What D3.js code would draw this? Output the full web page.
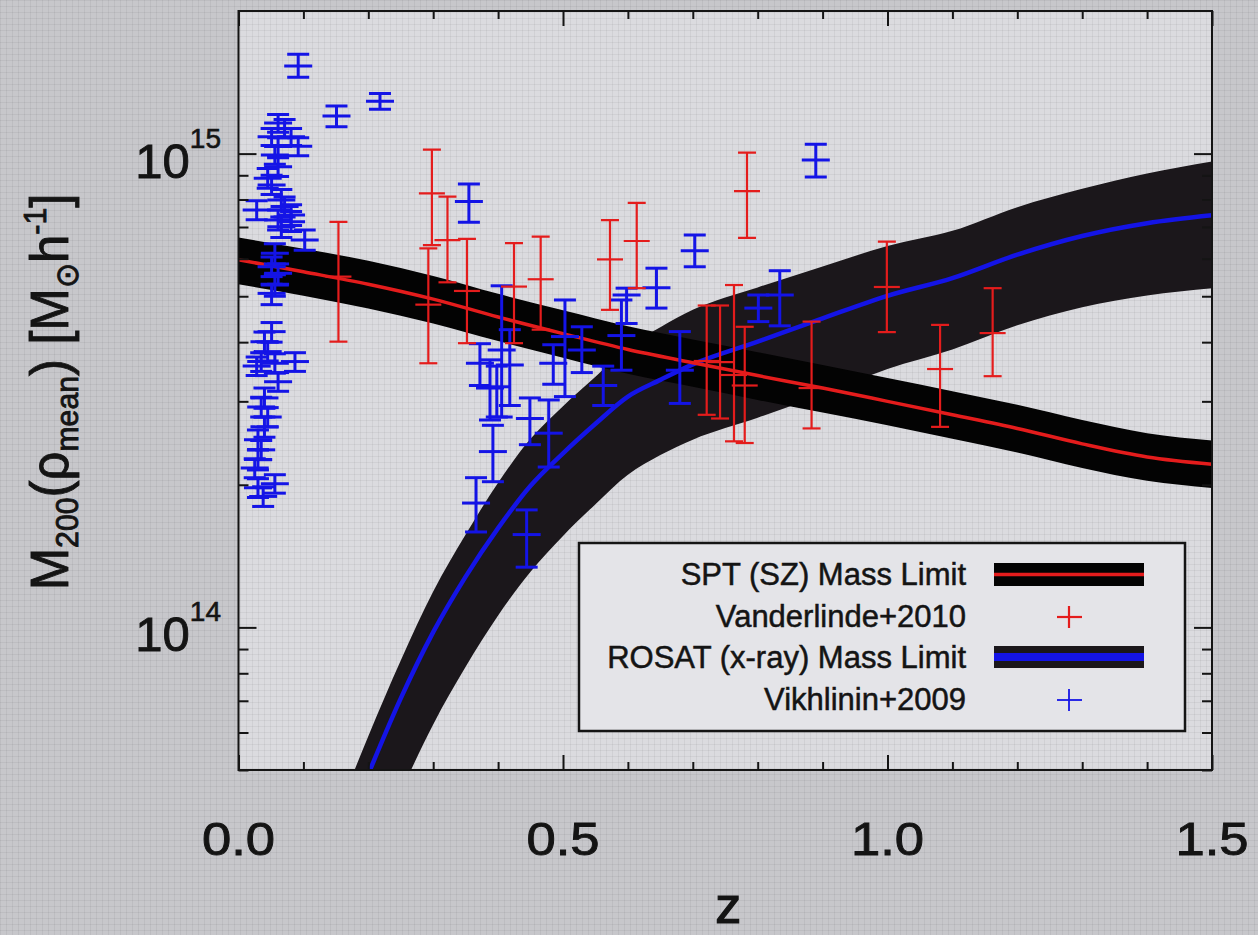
<!DOCTYPE html>
<html><head><meta charset="utf-8">
<script src="https://cdn.jsdelivr.net/npm/d3@7"></script>
<style>html,body{margin:0;padding:0;background:#c6c6ca;} svg{display:block;}</style>
</head><body>
<svg id="chart" width="1258" height="935"></svg>
<script>
// ---------------- DATA ----------------
// SPT (SZ) mass limit band
const sptZ    = [0,0.1,0.2,0.3,0.4,0.5,0.6,0.7,0.8,0.9,1.0,1.1,1.2,1.3,1.4,1.5];
const sptMid  = [5.97e14,5.63e14,5.30e14,4.93e14,4.52e14,4.17e14,3.86e14,3.62e14,3.40e14,3.20e14,3.00e14,2.81e14,2.63e14,2.44e14,2.29e14,2.21e14];
const sptHigh = [6.65e14,6.30e14,5.94e14,5.52e14,5.06e14,4.67e14,4.32e14,4.05e14,3.81e14,3.58e14,3.36e14,3.15e14,2.95e14,2.74e14,2.57e14,2.48e14];
const sptLow  = [5.30e14,5.01e14,4.71e14,4.38e14,4.02e14,3.71e14,3.43e14,3.22e14,3.02e14,2.84e14,2.67e14,2.50e14,2.34e14,2.17e14,2.04e14,1.97e14];

// ROSAT (x-ray) mass limit band
const rosZ    = [0.15,0.2,0.25,0.3,0.35,0.4,0.45,0.5,0.55,0.6,0.65,0.7,0.8,0.9,1.0,1.1,1.2,1.3,1.4,1.5];
const rosMid  = [3.31e13,4.90e13,7.08e13,9.77e13,1.28e14,1.62e14,1.99e14,2.33e14,2.69e14,3.07e14,3.33e14,3.59e14,4.01e14,4.49e14,5.01e14,5.46e14,6.12e14,6.70e14,7.13e14,7.41e14];
const rosHigh = [3.98e13,5.89e13,8.51e13,1.19e14,1.57e14,2.02e14,2.50e14,2.93e14,3.38e14,3.91e14,4.30e14,4.68e14,5.22e14,5.78e14,6.38e14,6.87e14,7.71e14,8.43e14,9.08e14,9.62e14];
const rosLow  = [2.00e13,3.02e13,4.47e13,6.24e13,8.26e13,1.06e14,1.31e14,1.56e14,1.82e14,2.10e14,2.31e14,2.49e14,2.77e14,3.10e14,3.51e14,3.86e14,4.34e14,4.74e14,5.02e14,5.20e14];

// Vanderlinde+2010 (red)
const vdlZ  = [0.154,0.298,0.2925,0.322,0.352,0.4245,0.4656,0.5724,0.6136,0.7835,0.7214,0.742,0.7635,0.780,0.883,0.999,1.081,1.162];
const vdlM  = [5.50e14,8.24e14,4.80e14,6.57e14,5.13e14,5.24e14,5.43e14,5.98e14,6.54e14,8.33e14,3.65e14,3.63e14,3.41e14,3.24e14,3.20e14,5.23e14,3.51e14,4.18e14];
const vdlLo = [4.01e14,6.41e14,3.61e14,5.35e14,3.98e14,3.98e14,4.25e14,4.68e14,5.20e14,6.64e14,2.81e14,2.76e14,2.47e14,2.45e14,2.63e14,4.20e14,2.65e14,3.39e14];
const vdlHi = [7.18e14,1.02e15,6.31e14,8.11e14,6.61e14,6.47e14,6.68e14,7.24e14,7.87e14,1.005e15,4.78e14,4.78e14,5.28e14,4.31e14,4.42e14,6.52e14,4.35e14,5.20e14];

// Vikhlinin+2009 (blue)
const vikZ  = [0.092,0.151,0.218,0.061,0.071,0.051,0.081,0.092,0.061,0.056,0.061,0.045,0.051,0.066,0.071,0.081,0.061,0.066,0.102,0.028,0.081,0.056,0.051,0.061,0.056,0.051,0.051,0.040,0.045,0.035,0.087,0.056,0.028,0.061,0.040,0.035,0.045,0.040,0.030,0.035,0.030,0.025,0.056,0.030,0.038,
               0.355,0.4055,0.372,0.3875,0.398,0.418,0.392,0.366,0.444,0.449,0.478,0.503,0.485,0.529,0.598,0.590,0.644,0.703,0.680,0.801,0.834,0.8895,0.562];
const vikM  = [1.53e15,1.20e15,1.29e15,1.16e15,1.13e15,1.086e15,1.086e15,1.037e15,1.035e15,9.93e14,9.38e14,8.87e14,8.59e14,7.98e14,7.73e14,7.42e14,7.24e14,7.01e14,6.57e14,7.60e14,7.18e14,6.16e14,5.77e14,5.59e14,5.28e14,5.07e14,4.21e14,4.01e14,3.82e14,3.64e14,3.64e14,3.61e14,3.56e14,3.30e14,3.05e14,2.92e14,2.78e14,2.65e14,2.49e14,2.37e14,2.26e14,2.17e14,2.01e14,1.97e14,1.89e14,
               7.92e14,3.85e14,3.61e14,3.20e14,3.22e14,3.58e14,2.35e14,1.83e14,1.57e14,2.76e14,2.57e14,4.11e14,3.61e14,3.85e14,5.03e14,4.13e14,5.21e14,6.24e14,3.49e14,4.72e14,5.03e14,9.69e14,3.24e14];
const vikLo = [1.45e15,1.14e15,1.24e15,1.11e15,1.08e15,1.04e15,1.04e15,9.9e14,9.9e14,9.5e14,8.95e14,8.45e14,8.2e14,7.6e14,7.35e14,7.05e14,6.9e14,6.65e14,6.25e14,7.25e14,6.85e14,5.85e14,5.5e14,5.3e14,5.0e14,4.8e14,4.0e14,3.8e14,3.65e14,3.47e14,3.47e14,3.44e14,3.4e14,3.15e14,2.9e14,2.78e14,2.65e14,2.52e14,2.37e14,2.26e14,2.15e14,2.07e14,1.92e14,1.88e14,1.8e14,
               7.16e14,2.78e14,3.24e14,2.74e14,2.78e14,2.94e14,2.03e14,1.59e14,1.34e14,2.43e14,2.18e14,3.07e14,3.26e14,3.45e14,4.38e14,3.49e14,4.72e14,5.77e14,2.97e14,4.42e14,4.33e14,8.93e14,2.94e14];
const vikHi = [1.62e15,1.26e15,1.34e15,1.21e15,1.18e15,1.13e15,1.13e15,1.08e15,1.08e15,1.04e15,9.8e14,9.3e14,9.0e14,8.4e14,8.1e14,7.8e14,7.6e14,7.35e14,6.9e14,7.95e14,7.55e14,6.45e14,6.05e14,5.85e14,5.55e14,5.3e14,4.4e14,4.2e14,4.0e14,3.8e14,3.8e14,3.78e14,3.72e14,3.45e14,3.2e14,3.06e14,2.91e14,2.78e14,2.61e14,2.48e14,2.37e14,2.27e14,2.1e14,2.06e14,1.98e14,
               8.63e14,5.26e14,3.97e14,3.67e14,3.56e14,4.25e14,2.67e14,2.07e14,1.77e14,3.05e14,3.02e14,4.91e14,3.95e14,4.31e14,5.20e14,4.91e14,5.73e14,6.73e14,4.21e14,5.03e14,5.66e14,1.047e15,3.56e14];

const xTicksMajor = [0, 0.5, 1.0, 1.5];
const xTickLabels = ["0.0", "0.5", "1.0", "1.5"];
const xTicksMinor = [0.1,0.2,0.3,0.4,0.6,0.7,0.8,0.9,1.1,1.2,1.3,1.4];
const yTicksMajor = [1e14, 1e15];
const yTickExp    = ["14", "15"];
const yTicksMinor = [5e13,6e13,7e13,8e13,9e13,2e14,3e14,4e14,5e14,6e14,7e14,8e14,9e14];

const legendLabels = ["SPT (SZ) Mass Limit", "Vanderlinde+2010", "ROSAT (x-ray) Mass Limit", "Vikhlinin+2009"];

// ---------------- DRAW ----------------
const svg = d3.select("#chart");
const X0 = 238.5, X1 = 1212, Y0 = 770, Y1 = 11;
const x = d3.scaleLinear().domain([0, 1.5]).range([X0, X1]);
const y = d3.scaleLog().domain([5e13, 2e15]).range([Y0, Y1]);

const FONT = "'Liberation Sans', Arial, Helvetica, sans-serif";
const RED = "#e41c1c", BLUE = "#1414e6", INK = "#141414";

const defs = svg.append("defs");
const pat = defs.append("pattern").attr("id","scr").attr("width",6).attr("height",6).attr("patternUnits","userSpaceOnUse");
pat.append("path").attr("d","M0 0.5H6M0.5 0V6").attr("stroke","rgba(0,0,0,0.05)").attr("stroke-width",1);
defs.append("clipPath").attr("id","plotclip").append("rect")
  .attr("x", X0).attr("y", Y1).attr("width", X1 - X0).attr("height", Y0 - Y1);

svg.append("rect").attr("width",1258).attr("height",935).attr("fill","#c7c7cb");
svg.append("rect").attr("x",X0).attr("y",Y1).attr("width",X1-X0).attr("height",Y0-Y1).attr("fill","#dbdbdf");
svg.append("rect").attr("width",1258).attr("height",935).attr("fill","url(#scr)");

const plot = svg.append("g").attr("clip-path","url(#plotclip)");

const area = d3.area().curve(d3.curveMonotoneX);
const line = d3.line().curve(d3.curveMonotoneX);

// ROSAT band
plot.append("path")
  .attr("d", area.x((d,i)=>x(rosZ[i])).y0((d,i)=>y(rosLow[i])).y1((d,i)=>y(rosHigh[i]))(rosZ))
  .attr("fill","#1b171b");
// SPT band
plot.append("path")
  .attr("d", area.x((d,i)=>x(sptZ[i])).y0((d,i)=>y(sptLow[i])).y1((d,i)=>y(sptHigh[i]))(sptZ))
  .attr("fill","#030303");
// ROSAT line
plot.append("path")
  .attr("d", line.x((d,i)=>x(rosZ[i])).y((d,i)=>y(rosMid[i]))(rosZ))
  .attr("fill","none").attr("stroke",BLUE).attr("stroke-width",4.5);
// SPT line
plot.append("path")
  .attr("d", line.x((d,i)=>x(sptZ[i])).y((d,i)=>y(sptMid[i]))(sptZ))
  .attr("fill","none").attr("stroke",RED).attr("stroke-width",3.5);

function errbars(g, zs, ms, los, his, color, sw, capW, tickW) {
  const gg = g.append("g").attr("stroke", color).attr("stroke-width", sw).attr("fill","none");
  zs.forEach((z, i) => {
    const cx = x(z);
    gg.append("line").attr("x1",cx).attr("x2",cx).attr("y1",y(los[i])).attr("y2",y(his[i]));
    gg.append("line").attr("x1",cx-capW/2).attr("x2",cx+capW/2).attr("y1",y(los[i])).attr("y2",y(los[i]));
    gg.append("line").attr("x1",cx-capW/2).attr("x2",cx+capW/2).attr("y1",y(his[i])).attr("y2",y(his[i]));
    gg.append("line").attr("x1",cx-tickW/2).attr("x2",cx+tickW/2).attr("y1",y(ms[i])).attr("y2",y(ms[i]));
  });
}
errbars(plot, vikZ, vikM, vikLo, vikHi, BLUE, 3, 22, 28);
errbars(plot, vdlZ, vdlM, vdlLo, vdlHi, RED, 2.2, 18, 26);

// Frame + ticks
const axG = svg.append("g");
function styleAxis(g){ g.select(".domain").remove(); g.selectAll("line").attr("stroke",INK).attr("stroke-width",2); }
axG.append("g").attr("transform",`translate(0,${Y0})`).call(d3.axisBottom(x).tickValues(xTicksMinor).tickSize(-8).tickFormat("")).call(styleAxis);
axG.append("g").attr("transform",`translate(0,${Y0})`).call(d3.axisBottom(x).tickValues(xTicksMajor).tickSize(-15).tickFormat("")).call(styleAxis);
axG.append("g").attr("transform",`translate(0,${Y1})`).call(d3.axisTop(x).tickValues(xTicksMinor).tickSize(-8).tickFormat("")).call(styleAxis);
axG.append("g").attr("transform",`translate(0,${Y1})`).call(d3.axisTop(x).tickValues(xTicksMajor).tickSize(-15).tickFormat("")).call(styleAxis);
axG.append("g").attr("transform",`translate(${X0},0)`).call(d3.axisLeft(y).tickValues(yTicksMinor).tickSize(-10).tickFormat("")).call(styleAxis);
axG.append("g").attr("transform",`translate(${X0},0)`).call(d3.axisLeft(y).tickValues(yTicksMajor).tickSize(-18).tickFormat("")).call(styleAxis);
axG.append("g").attr("transform",`translate(${X1},0)`).call(d3.axisRight(y).tickValues(yTicksMinor).tickSize(-10).tickFormat("")).call(styleAxis);
axG.append("g").attr("transform",`translate(${X1},0)`).call(d3.axisRight(y).tickValues(yTicksMajor).tickSize(-18).tickFormat("")).call(styleAxis);
svg.append("rect").attr("x",X0).attr("y",Y1).attr("width",X1-X0).attr("height",Y0-Y1)
  .attr("fill","none").attr("stroke",INK).attr("stroke-width",2);

// X tick labels
xTicksMajor.forEach((v,i)=>{
  svg.append("text").attr("transform",`translate(${x(v)},855) scale(1.12,1)`)
    .attr("text-anchor","middle").attr("font-family",FONT).attr("font-size",47)
    .attr("fill",INK).attr("stroke",INK).attr("stroke-width",0.9)
    .text(xTickLabels[i]);
});
// Y tick labels 10^n
yTicksMajor.forEach((v,i)=>{
  const t = svg.append("text").attr("x",221).attr("y",y(v)+24).attr("text-anchor","end")
    .attr("font-family",FONT).attr("fill",INK).attr("stroke",INK).attr("stroke-width",0.9);
  t.append("tspan").attr("font-size",49).text("10");
  t.append("tspan").attr("font-size",28).attr("dy",-30).attr("stroke-width",0.6).text(yTickExp[i]);
});
// X title
svg.append("text").attr("x",(X0+X1)/2+3).attr("y",923).attr("text-anchor","middle")
  .attr("font-family",FONT).attr("font-size",52).attr("fill",INK).attr("stroke",INK).attr("stroke-width",1.2).text("z");

// Y title
const yt = svg.append("text").attr("text-anchor","middle").attr("font-family",FONT).attr("fill",INK)
  .attr("stroke",INK).attr("stroke-width",0.9).attr("font-size",54);
const parts = [["M",54,0],["200",32,10],["(",54,-10],["ρ",54,0],["mean",32,10],[")",54,-10],[" [M",54,0],["⊙",32,10],["h",54,-10],["-1",32,-22],["]",54,22]];
parts.forEach(p=>{ yt.append("tspan").attr("font-size",p[1]).attr("dy",p[2]).text(p[0]); });
const bb = yt.node().getBBox();
const sx = 397 / bb.width;
yt.attr("transform",`translate(68,392) rotate(-90) scale(${sx},1)`);

// Legend
const lg = svg.append("g");
lg.append("rect").attr("x",579).attr("y",543).attr("width",606).attr("height",188)
  .attr("fill","#e4e4e8").attr("stroke",INK).attr("stroke-width",2.5);
const rowsY = [585, 627, 668, 710];
legendLabels.forEach((s,i)=>{
  lg.append("text").attr("x",966).attr("y",rowsY[i]).attr("text-anchor","end")
    .attr("font-family",FONT).attr("font-size",31).attr("fill",INK)
    .attr("stroke",INK).attr("stroke-width",0.5).text(s);
});
// SPT sample
lg.append("rect").attr("x",994).attr("y",563).attr("width",150).attr("height",23).attr("fill","#030303");
lg.append("line").attr("x1",994).attr("x2",1144).attr("y1",574.5).attr("y2",574.5).attr("stroke",RED).attr("stroke-width",3.5);
// red cross
lg.append("g").attr("stroke",RED).attr("stroke-width",2.2).call(g=>{
  g.append("line").attr("x1",1057).attr("x2",1082).attr("y1",617).attr("y2",617);
  g.append("line").attr("x1",1069).attr("x2",1069).attr("y1",606).attr("y2",628);
});
// ROSAT sample
lg.append("rect").attr("x",994).attr("y",646).attr("width",150).attr("height",22).attr("fill","#1b171b");
lg.append("line").attr("x1",994).attr("x2",1144).attr("y1",657).attr("y2",657).attr("stroke",BLUE).attr("stroke-width",8);
// blue cross
lg.append("g").attr("stroke",BLUE).attr("stroke-width",1.8).call(g=>{
  g.append("line").attr("x1",1057).attr("x2",1082).attr("y1",700).attr("y2",700);
  g.append("line").attr("x1",1069).attr("x2",1069).attr("y1",689).attr("y2",711);
});
</script>
</body></html>
